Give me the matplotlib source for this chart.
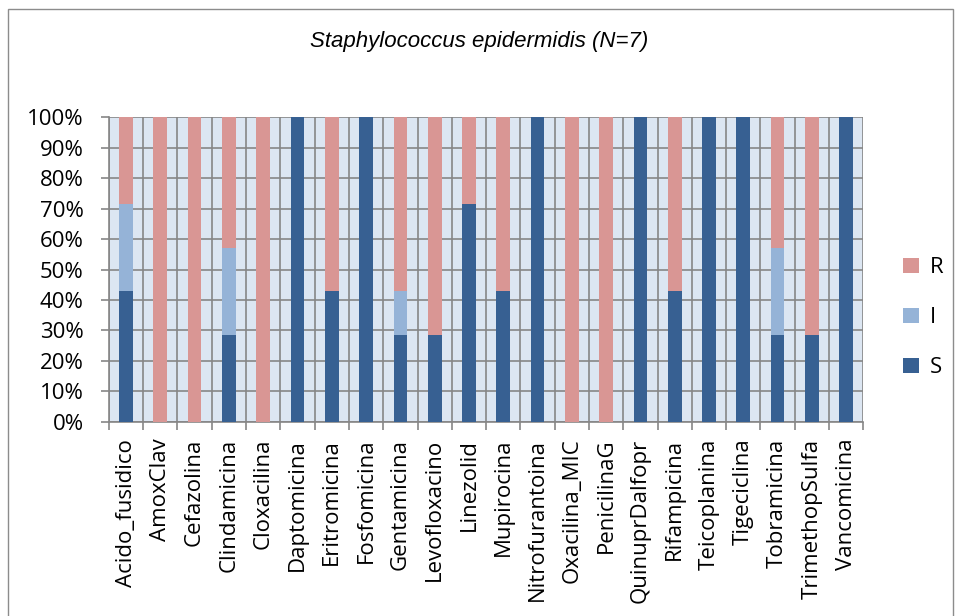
import numpy as np
import matplotlib
matplotlib.use("Agg")
import matplotlib.pyplot as plt
from matplotlib.patches import Rectangle

# Susceptibility counts per antibiotic (N=7 isolates)
antibiotics = [
    "Acido_fusidico", "AmoxClav", "Cefazolina", "Clindamicina", "Cloxacilina",
    "Daptomicina", "Eritromicina", "Fosfomicina", "Gentamicina", "Levofloxacino",
    "Linezolid", "Mupirocina", "Nitrofurantoina", "Oxacilina_MIC", "PenicilinaG",
    "QuinuprDalfopr", "Rifampicina", "Teicoplanina", "Tigeciclina", "Tobramicina",
    "TrimethopSulfa", "Vancomicina",
]
n_total = 7
s_counts = [3, 0, 0, 2, 0, 7, 3, 7, 2, 2, 5, 3, 7, 0, 0, 7, 3, 7, 7, 2, 2, 7]
i_counts = [2, 0, 0, 2, 0, 0, 0, 0, 1, 0, 0, 0, 0, 0, 0, 0, 0, 0, 0, 2, 0, 0]
r_counts = [2, 7, 7, 3, 7, 0, 4, 0, 4, 5, 2, 4, 0, 7, 7, 0, 4, 0, 0, 3, 5, 0]

col_s = "#376092"
col_i = "#95B3D7"
col_r = "#D99694"
grid_col = "#868686"

plt.rcParams["font.family"] = "Open Sans"

s = np.array(s_counts) / n_total * 100
i = np.array(i_counts) / n_total * 100
r = np.array(r_counts) / n_total * 100
x = np.arange(len(antibiotics))

fig = plt.figure(figsize=(9.55, 6.16), dpi=100)
fig.patches.append(Rectangle((0.008, -0.01), 0.99, 0.995, transform=fig.transFigure,
                             fill=False, edgecolor="#8c8c8c", linewidth=1.0))
ax = fig.add_axes([0.114, 0.315, 0.790, 0.495])
ax.set_facecolor("#DCE6F2")

w = 0.4
ax.bar(x, s, w, color=col_s, label="S", zorder=3, linewidth=0)
ax.bar(x, i, w, bottom=s, color=col_i, label="I", zorder=3, linewidth=0)
ax.bar(x, r, w, bottom=s + i, color=col_r, label="R", zorder=3, linewidth=0)
# hide empty segments so they leave no sliver at the baseline
for c in ax.containers:
    for patch in c.patches:
        if patch.get_height() == 0:
            patch.set_visible(False)

ax.set_xlim(-0.5, len(antibiotics) - 0.5)
ax.set_ylim(0, 100)
ax.set_yticks(np.arange(0, 101, 10))
ax.set_yticklabels([f"{v}%" for v in range(0, 101, 10)], fontsize=16)
ax.set_xticks(x)
ax.set_xticklabels(antibiotics, rotation=90, fontsize=16)
ax.tick_params(axis="x", length=0, pad=12)
ax.tick_params(axis="y", length=6, color=grid_col, width=1.2, pad=12)

# category boundary lines and ticks
bounds = np.arange(-0.5, len(antibiotics), 1.0)
ax.set_xticks(bounds, minor=True)
ax.tick_params(axis="x", which="minor", length=6, color=grid_col, width=1.2)
ax.grid(axis="y", color=grid_col, linewidth=1.2, zorder=1)
ax.grid(axis="x", which="minor", color=grid_col, linewidth=1.2, zorder=1)
for side in ["top", "right"]:
    ax.spines[side].set_visible(False)
for side in ["left", "bottom"]:
    ax.spines[side].set_color(grid_col)
    ax.spines[side].set_linewidth(1.2)

fig.text(0.502, 0.932, "Staphylococcus epidermidis (N=7)", ha="center", va="center",
         fontsize=16, style="italic", family="Liberation Sans")

handles, labels = ax.get_legend_handles_labels()
leg = fig.legend(handles[::-1], labels[::-1], loc="center left",
                 bbox_to_anchor=(0.946, 0.484), frameon=False, fontsize=16,
                 handlelength=0.7, handleheight=0.7, labelspacing=1.3,
                 handletextpad=0.5, borderaxespad=0, borderpad=0)

fig.savefig("out.png", dpi=100)
